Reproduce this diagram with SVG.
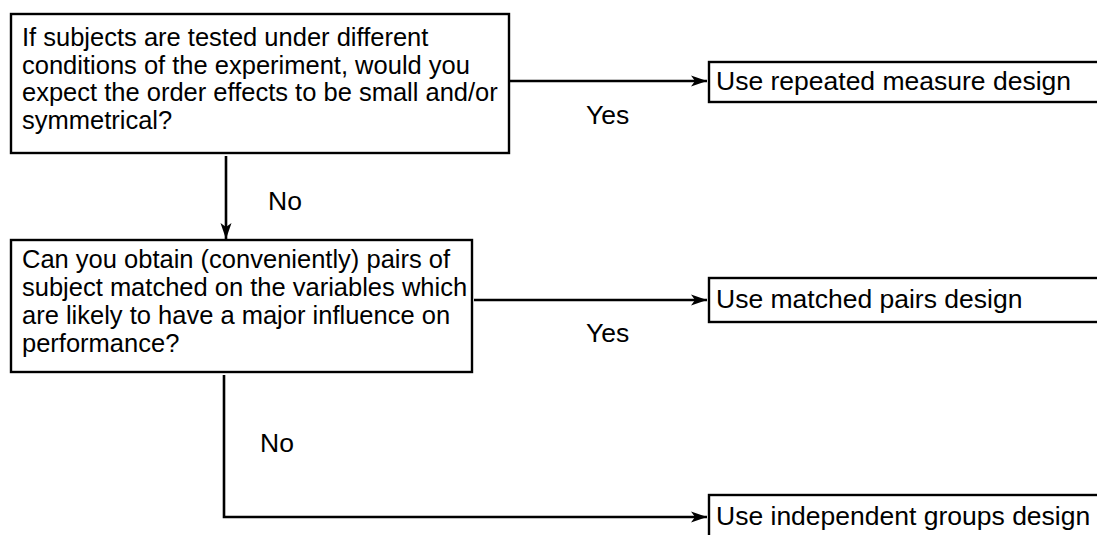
<svg xmlns="http://www.w3.org/2000/svg" width="1097" height="535" viewBox="0 0 1097 535">
  <style>
    .box { fill: #ffffff; stroke: #000000; stroke-width: 2.4; }
    .txt { font-family: "Liberation Sans", Arial, Helvetica, sans-serif; font-size: 25.5px; fill: #000000; }
    .out { font-size: 26.5px; }
    .wire { fill: none; stroke: #000000; stroke-width: 2.6; }
  </style>
  <defs>
    <marker id="arrow" markerWidth="18" markerHeight="14" refX="16" refY="7" orient="auto" markerUnits="userSpaceOnUse">
      <path d="M0,1.5 L16,7 L0,12.5 L4,7 Z" fill="#000000"/>
    </marker>
  </defs>
  <rect width="1097" height="535" fill="#ffffff"/>

  <!-- decision: order effects -->
  <g id="q-order-effects">
    <rect class="box" x="11" y="14" width="498" height="139"/>
    <text class="txt" x="22" y="46">If subjects are tested under different</text>
    <text class="txt" x="22" y="73.5">conditions of the experiment, would you</text>
    <text class="txt" x="22" y="101">expect the order effects to be small and/or</text>
    <text class="txt" x="22" y="128.5">symmetrical?</text>
  </g>

  <!-- decision: matched pairs -->
  <g id="q-matched-pairs">
    <rect class="box" x="11" y="240" width="461" height="132"/>
    <text class="txt" x="22" y="268">Can you obtain (conveniently) pairs of</text>
    <text class="txt" x="22" y="296">subject matched on the variables which</text>
    <text class="txt" x="22" y="324">are likely to have a major influence on</text>
    <text class="txt" x="22" y="352">performance?</text>
  </g>

  <!-- outcomes -->
  <g id="r-repeated">
    <rect class="box" x="709" y="62" width="400" height="40"/>
    <text class="txt out" x="716" y="90">Use repeated measure design</text>
  </g>
  <g id="r-matched">
    <rect class="box" x="709" y="278" width="400" height="44"/>
    <text class="txt out" x="716" y="308">Use matched pairs design</text>
  </g>
  <g id="r-independent">
    <rect class="box" x="709" y="495" width="400" height="60"/>
    <text class="txt out" x="716" y="525">Use independent groups design</text>
  </g>

  <!-- connectors and their labels -->
  <g id="connectors">
    <line class="wire" x1="510" y1="81" x2="707" y2="81" marker-end="url(#arrow)"/>
    <line class="wire" x1="226" y1="156" x2="226" y2="239" marker-end="url(#arrow)"/>
    <line class="wire" x1="474" y1="300" x2="707" y2="300" marker-end="url(#arrow)"/>
    <polyline class="wire" points="224,375 224,517 707,517" marker-end="url(#arrow)"/>
    <text class="txt out" x="586" y="124">Yes</text>
    <text class="txt out" x="268" y="210">No</text>
    <text class="txt out" x="586" y="342">Yes</text>
    <text class="txt out" x="260" y="452">No</text>
  </g>
</svg>
